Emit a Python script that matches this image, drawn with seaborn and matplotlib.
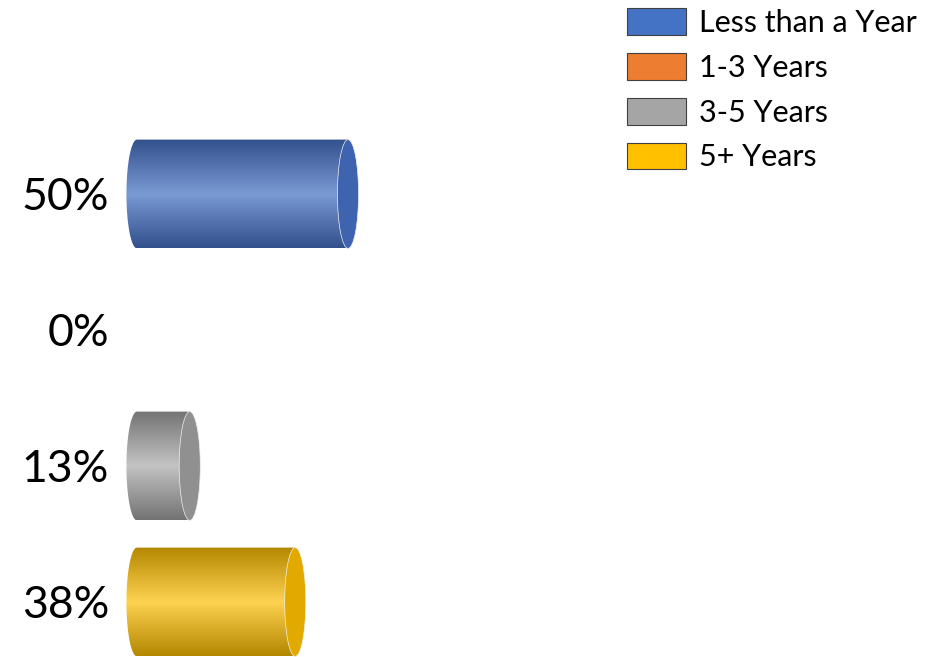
import numpy as np
import pandas as pd
import matplotlib
matplotlib.use("Agg")
import matplotlib.pyplot as plt
import seaborn as sns
from matplotlib.patches import Ellipse, Patch, PathPatch
from matplotlib.path import Path
from matplotlib.colors import to_rgb

# --- data ---
categories = ["Less than a Year", "1-3 Years", "3-5 Years", "5+ Years"]
values = [50, 0, 12.5, 37.5]
value_labels = ["50%", "0%", "13%", "38%"]
legend_colors = ["#4472C4", "#ED7D31", "#A5A5A5", "#FFC000"]

# cylinder shading: edge, centre, end cap
edge_colors = ["#32508C", "#A9561C", "#737373", "#B48700"]
center_colors = ["#7A9AD4", "#F4A774", "#C3C3C3", "#FDD250"]
cap_colors = ["#3E64B0", "#D06A22", "#909090", "#E2AA00"]

df = pd.DataFrame({"category": categories, "value": values})

sns.set_style("white")
plt.rcParams["font.family"] = ["Lato", "DejaVu Sans"]

W, H = 927, 657
px_per = 4.22          # pixels per percent
x_lo = -4              # room for the rounded left side
left_px = 137 + x_lo * px_per
fig = plt.figure(figsize=(W / 100, H / 100), dpi=100)
ax = fig.add_axes([left_px / W, 0, (100 - x_lo) * px_per / W, (H - 126) / H])

sns.barplot(data=df, x="value", y="category", hue="category",
            palette=legend_colors, dodge=False, width=0.8,
            legend=False, ax=ax)

xlim = (x_lo, 100)
ylim = (-0.5 + 531 / 136, -0.5)

cap_w = 5.0  # ellipse width in data units

for p in list(ax.patches):
    x, y, w, h = p.get_x(), p.get_y(), p.get_width(), p.get_height()
    p.set_visible(False)
    if w <= 0:
        continue
    i = int(round(y + h / 2))
    yc = y + h / 2
    a = cap_w / 2

    n = 256
    t = np.abs(np.linspace(-1, 1, n))[:, None]
    e = np.array(to_rgb(edge_colors[i]))
    c = np.array(to_rgb(center_colors[i]))
    img = (c * (1 - t) + e * t)[:, None, :]

    im = ax.imshow(img, extent=(x - a, x + w, y + h, y), aspect="auto",
                   interpolation="bilinear", zorder=2)

    th = np.linspace(np.pi / 2, 3 * np.pi / 2, 60)
    verts = [(x, y), (x + w, y), (x + w, y + h), (x, y + h)]
    verts += list(zip(x + a * np.cos(th), yc + (h / 2) * np.sin(th)))
    verts.append((x, y))
    clip = PathPatch(Path(verts, closed=True), transform=ax.transData,
                     facecolor="none", edgecolor="none")
    ax.add_patch(clip)
    im.set_clip_path(clip)

    ax.add_patch(Ellipse((x + w, yc), 2 * a, h, facecolor=cap_colors[i],
                         edgecolor="#f0f0f0", lw=0.5, zorder=3))

ax.set_xlim(*xlim)
ax.set_ylim(*ylim)
ax.set_yticks(range(len(categories)))
ax.set_yticklabels(value_labels, fontsize=32, color="black")
ax.tick_params(axis="y", length=0, pad=8)
ax.set_xticks([])
ax.set_xlabel("")
ax.set_ylabel("")
sns.despine(ax=ax, left=True, bottom=True)

handles = [Patch(facecolor=col, edgecolor="#404040", lw=0.8) for col in legend_colors]
leg = fig.legend(handles, categories, loc="upper left",
                 bbox_to_anchor=(627 / W, 1 - 8 / H), frameon=False, fontsize=22,
                 handlelength=1.93, handleheight=0.98, handletextpad=0.42,
                 labelspacing=0.52, borderaxespad=0, borderpad=0)
for txt in leg.get_texts():
    txt.set_color("black")

fig.savefig("out.png", dpi=100)
